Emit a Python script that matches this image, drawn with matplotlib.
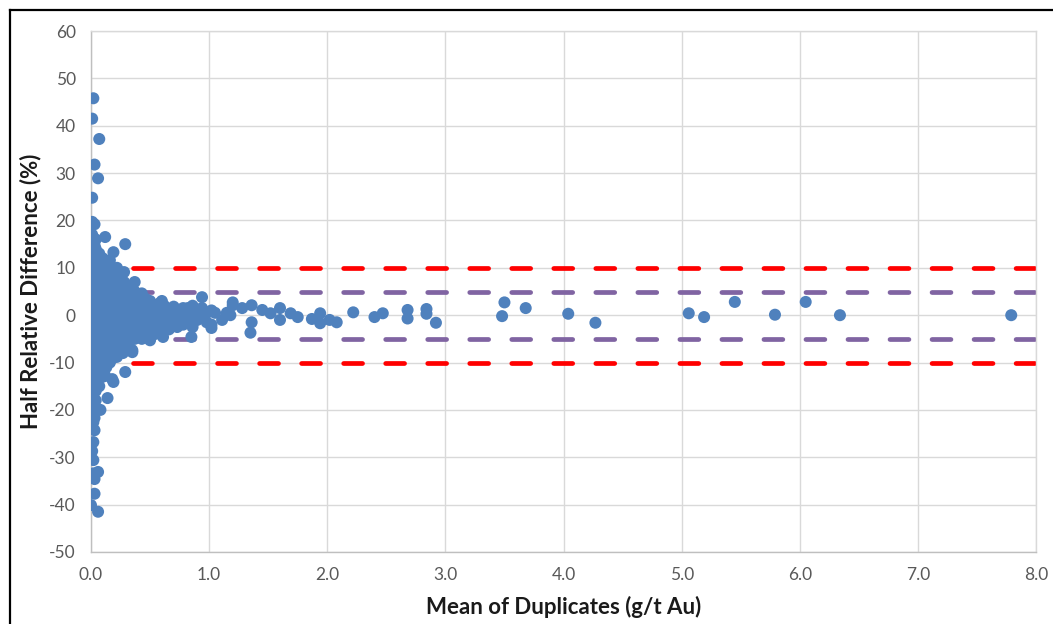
import matplotlib.pyplot as plt
from matplotlib.lines import Line2D

# 外れ値（スパイク部分）
spike_x = [0.02, 0.01, 0.07, 0.03, 0.06, 0.01, 0.01, 0.03, 0.00, 0.12, 0.29, 0.19, 0.03, 0.16,
           0.28, 0.37, 0.43, 0.60, 0.94, 1.20,
           0.85, 0.61, 0.50, 0.35, 0.29, 0.19, 0.10, 0.14, 0.08, 0.03, 0.02, 0.03, 0.02, 0.01,
           0.02, 0.02, 0.06, 0.03, 0.03, 0.00, 0.06, 0.73, 0.33, 0.27, 0.22, 0.18, 0.12, 0.35]
spike_y = [45.8, 41.5, 37.2, 31.8, 28.9, 24.8, 19.7, 19.2, 16.5, 16.5, 15.0, 13.3, 14.8, 11.6,
           9.1, 7.0, 4.6, 3.0, 3.8, 2.7,
           -4.6, -4.6, -5.3, -7.4, -12.0, -14.1, -13.0, -17.5, -20.0, -21.7, -22.6, -24.3, -26.8, -28.7,
           -30.6, -33.4, -33.1, -34.6, -37.7, -40.1, -41.5, -2.5, -7.0, -8.0, -8.8, -13.5, -12.8, -7.8]

# 低品位の密集部分
core_x = ([0.01] * 20 + [0.04] * 19 + [0.07] * 15 + [0.10] * 13 + [0.13] * 12 + [0.16] * 11
          + [0.19] * 10 + [0.22] * 10 + [0.25] * 9 + [0.28] * 8 + [0.31] * 7 + [0.34] * 6
          + [0.37] * 6 + [0.40] * 5 + [0.43] * 5 + [0.46] * 5 + [0.50] * 4 + [0.54] * 4
          + [0.58] * 4 + [0.62] * 3 + [0.66] * 3 + [0.70] * 3 + [0.74] * 2 + [0.78] * 3
          + [0.82] * 2 + [0.86] * 3 + [0.90] * 2 + [0.94] * 2 + [0.98] * 2 + [1.02] * 2)
core_y = [-21, -19, -17, -15, -13, -11, -9, -7, -5, -3, -1, 1, 3, 5, 7, 9, 11, 13, 15, 17,
          -20, -18, -16, -14, -12, -10, -8, -6, -4, -2, 0, 2, 4, 6, 8, 10, 12, 14, 16,
          -15, -13, -11, -9, -7, -5, -3, -1, 1, 3, 5, 7, 9, 11, 13,
          -12, -10, -8, -6, -4, -2, 0, 2, 4, 6, 8, 10, 12,
          -11, -9, -7, -5, -3, -1, 1, 3, 5, 7, 9, 11,
          -10, -8, -6, -4, -2, 0, 2, 4, 6, 8, 10,
          -9, -7, -5, -3, -1, 1, 3, 5, 7, 9,
          -8, -6, -4, -2, 0, 2, 4, 6, 8, 10,
          -7, -5, -3, -1, 1, 3, 5, 7, 9,
          -7, -5, -3, -1, 1, 3, 5, 7,
          -6, -4, -2, 0, 2, 4, 6,
          -5, -3, -1, 1, 3, 5,
          -5, -3, -1, 1, 3, 5,
          -4.5, -2.5, -0.5, 1.5, 3.5,
          -5, -3, -1, 1, 3,
          -4, -2, 0, 2, 3.5,
          -3, -1, 1, 3,
          -4, -2, 0, 2,
          -3, -1, 1, 2.5,
          -2, 0, 2,
          -3, -1, 1,
          -2, 0, 1.8,
          -1, 1,
          -2, 0, 1.5,
          -1, 1.5,
          -2.5, 0, 2,
          -1, 1,
          0, 1.5,
          -1.5, 0.5,
          -2, 1]

# 高品位側
tail_x = [1.02, 1.05, 1.11, 1.15, 1.18, 1.20, 1.28, 1.36, 1.36, 1.35, 1.45, 1.52, 1.60, 1.60,
          1.69, 1.75, 1.87, 1.94, 1.94, 2.02, 2.08, 2.22, 2.40, 2.47, 2.68, 2.68, 2.84, 2.84,
          2.92, 3.48, 3.50, 3.68, 4.04, 4.27, 5.06, 5.19, 5.45, 5.79, 6.05, 6.34, 7.79]
tail_y = [-2.7, 0.5, -1.0, 0.5, 0.0, 2.1, 1.5, 2.1, -1.5, -3.7, 1.1, 0.4, 1.5, -1.0,
          0.4, -0.4, -0.8, 0.4, -1.7, -1.0, -1.5, 0.6, -0.4, 0.4, 1.1, -0.7, 1.3, 0.3,
          -1.6, -0.2, 2.7, 1.5, 0.3, -1.6, 0.4, -0.4, 2.8, 0.1, 2.8, 0.0, 0.0]

# 許容範囲
red_limits = [10, -10]
purple_limits = [5, -5]

x_ticks = [0, 1, 2, 3, 4, 5, 6, 7, 8]
y_ticks = [-50, -40, -30, -20, -10, 0, 10, 20, 30, 40, 50, 60]

plt.rcParams['font.family'] = ['Lato', 'DejaVu Sans']
plt.rcParams['axes.unicode_minus'] = False

fig = plt.figure(figsize=(10.53, 6.24), dpi=100)
ax = fig.add_axes([0.0864, 0.1154, 0.8975, 0.8349])

for lim in red_limits:
    ax.plot([0, 8], [lim, lim], color='#FF0000', lw=3.4, dashes=(4.0, 4.9),
            dash_capstyle='round', zorder=2)
for lim in purple_limits:
    ax.plot([0, 8], [lim, lim], color='#8064A2', lw=3.4, dashes=(4.0, 4.9),
            dash_capstyle='round', zorder=2)

blue = '#4F81BD'
ax.scatter(core_x, core_y, s=75, color=blue, edgecolors='none', zorder=3)
ax.scatter(spike_x, spike_y, s=75, color=blue, edgecolors='none', zorder=3)
ax.scatter(tail_x, tail_y, s=75, color=blue, edgecolors='none', zorder=3)

ax.set_xlim(0, 8)
ax.set_ylim(-50, 60)
ax.set_xticks(x_ticks)
ax.set_xticklabels([f'{v:.1f}' for v in x_ticks])
ax.set_yticks(y_ticks)
ax.tick_params(length=0, labelsize=12.5, labelcolor='#595959')
ax.tick_params(axis='x', pad=11)
ax.tick_params(axis='y', pad=11)

ax.grid(True, color='#D9D9D9', lw=1.0, zorder=0)
ax.set_axisbelow(True)
for sp in ax.spines.values():
    sp.set_color('#D9D9D9')
    sp.set_linewidth(1.0)
ax.spines['left'].set_color('#BFBFBF')
ax.spines['bottom'].set_color('#BFBFBF')

ax.set_xlabel('Mean of Duplicates (g/t Au)', fontsize=16, fontweight='bold', color='#1a1a1a')
ax.set_ylabel('Half Relative Difference (%)', fontsize=16, fontweight='bold', color='#1a1a1a')
ax.xaxis.set_label_coords(0.5, -0.084)
ax.yaxis.set_label_coords(-0.053, 0.5)

# 外枠（左と上）
fig.add_artist(Line2D([0.0095, 0.0095], [0, 0.984], color='black', lw=1.6,
                      transform=fig.transFigure))
fig.add_artist(Line2D([0.0095, 1.0], [0.984, 0.984], color='black', lw=1.6,
                      transform=fig.transFigure))

fig.savefig('out.png', dpi=100)
